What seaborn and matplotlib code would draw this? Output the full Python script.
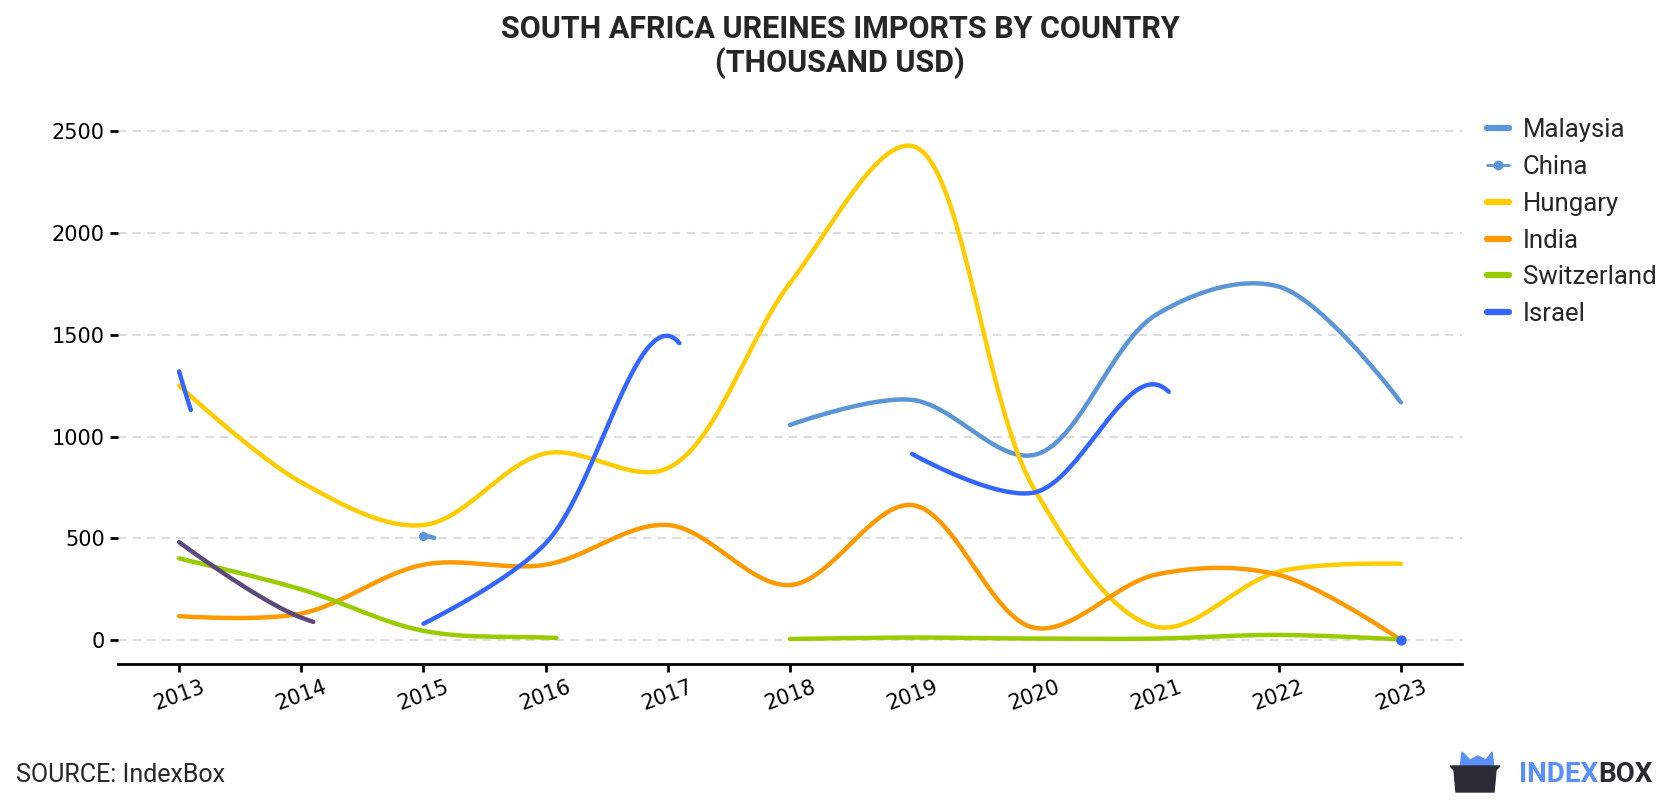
import numpy as np
import pandas as pd
import matplotlib.pyplot as plt
import seaborn as sns
from matplotlib.lines import Line2D
from matplotlib.patches import Polygon

# yearly values, thousand USD (None = no imports recorded)
years = list(range(2013, 2024))
malaysia = [None, None, None, None, None, 1057, 1180, 910, 1600, 1737, 1168]
china = [None, None, 511, None, None, None, None, None, None, None, None]
hungary = [1250, 775, 565, 917, 845, 1754, 2428, 740, 65, 336, 375]
india = [117, 130, 370, 370, 565, 270, 663, 60, 322, 320, 0]
switzerland = [401, 249, 45, 12, None, 5, 12, 7, 7, 25, 3]
israel = [1320, None, 80, 475, 1495, None, 914, 725, 1255, None, 0]
other = [481, 110, None, None, None, None, None, None, None, None, None]

legend_names = ['Malaysia', 'China', 'Hungary', 'India', 'Switzerland', 'Israel']
series = {'Malaysia': malaysia, 'China': china, 'Hungary': hungary, 'India': india,
          'Switzerland': switzerland, 'Israel': israel, 'Other': other}
colors = {'Malaysia': '#5a95d6', 'China': '#5a95d6', 'Hungary': '#ffcc00', 'India': '#ff9900',
          'Switzerland': '#99cc00', 'Israel': '#3366ff', 'Other': '#5c4a7c'}

W, H = 1680, 800
ax_rect = [118 / W, 136 / H, 1344 / W, 553 / H]
xlim = (2012.5, 2023.5)
ylim = (-118, 2600)
# pixels per data unit, the curve is smoothed in screen space
sx = ax_rect[2] * W / (xlim[1] - xlim[0])
sy = ax_rect[3] * H / (ylim[1] - ylim[0])


def bezier(p0, p1, p2, p3, alpha=0.5):
    '''centripetal catmull-rom piece from p1 to p2 (same maths as d3.curveCatmullRom)'''
    l01 = np.hypot(*(p1 - p0)) ** alpha
    l12 = np.hypot(*(p2 - p1)) ** alpha
    l23 = np.hypot(*(p3 - p2)) ** alpha
    c1, c2 = p1.copy(), p2.copy()
    if l01 > 1e-6:
        a = 2 * l01**2 + 3 * l01 * l12 + l12**2
        n = 3 * l01 * (l01 + l12)
        c1 = (p1 * a - p0 * l12**2 + p2 * l01**2) / n
    if l23 > 1e-6:
        b = 2 * l23**2 + 3 * l23 * l12 + l12**2
        m = 3 * l23 * (l23 + l12)
        c2 = (p2 * b + p1 * l23**2 - p3 * l12**2) / m
    t = np.linspace(0, 1, 80)[:, None]
    pts = (1 - t)**3 * p1 + 3 * (1 - t)**2 * t * c1 + 3 * (1 - t) * t**2 * c2 + t**3 * p2
    return pts[:, 0] / sx, pts[:, 1] / sy


def segments(vals):
    '''list of (x, y) runs to draw; a missing year counts as 0 next to a run's short tail'''
    n = len(vals)
    filled = [0.0 if v is None else float(v) for v in vals]
    P = [np.array([years[k] * sx, filled[k] * sy]) for k in range(n)]
    runs, cur = [], None
    for i in range(n):
        if vals[i] is None:
            continue
        if i == n - 1:
            if cur is None:
                runs.append(([years[i]], [vals[i]]))
            continue
        lone = vals[i + 1] is None and (i == 0 or vals[i - 1] is None)
        if i > 0 and (vals[i - 1] is not None or lone):
            p0 = P[i - 1]
        else:
            p0 = P[i]
        p3 = P[i + 2] if i + 2 < n else P[i + 1]
        bx, by = bezier(p0, P[i], P[i + 1], p3)
        if vals[i + 1] is None:
            keep = bx <= years[i] + 0.1
            bx, by = bx[keep], by[keep]
        if cur is None:
            cur = ([], [])
            runs.append(cur)
        cur[0].extend(bx)
        cur[1].extend(by)
        if vals[i + 1] is None:
            cur = None
    return runs


rows, points = [], []
for name, vals in series.items():
    for seg, (sxs, sys_) in enumerate(segments(vals)):
        if len(sxs) == 1:
            points.append((name, sxs[0], sys_[0]))
            continue
        for a, b in zip(sxs, sys_):
            rows.append((name, f'{name}{seg}', a, b))
df = pd.DataFrame(rows, columns=['country', 'segment', 'year', 'value'])
china_df = pd.DataFrame({'year': years, 'value': china}).dropna()
pts_df = pd.DataFrame(points, columns=['country', 'year', 'value'])

sns.set_theme(style='white')
plt.rcParams['font.family'] = ['Roboto', 'DejaVu Sans']

fig = plt.figure(figsize=(W / 100, H / 100), dpi=100)
ax = fig.add_axes(ax_rect)

sns.lineplot(data=df, x='year', y='value', hue='country', units='segment', estimator=None,
             sort=False, palette=colors, linewidth=3.2, legend=False, ax=ax)
sns.scatterplot(data=china_df, x='year', y='value', color=colors['China'], s=45,
                linewidth=0, ax=ax, zorder=5)
if len(pts_df):
    sns.scatterplot(data=pts_df, x='year', y='value', hue='country', palette=colors, s=55,
                    linewidth=0, legend=False, ax=ax, zorder=5)

ax.set_xlim(*xlim)
ax.set_ylim(*ylim)
ax.set_xticks(years)
ax.set_yticks(range(0, 2501, 500))
ax.set_xlabel('')
ax.set_ylabel('')
ax.yaxis.grid(True, linestyle=(0, (4, 3)), color='#dddddd', linewidth=1.5)
ax.set_axisbelow(True)
for s in ['top', 'right', 'left']:
    ax.spines[s].set_visible(False)
ax.spines['bottom'].set_color('black')
ax.spines['bottom'].set_linewidth(2)
ax.tick_params(axis='both', which='major', length=6, width=2, color='black',
               labelcolor='black', labelsize=15, bottom=True, left=True)
for lab in ax.get_xticklabels() + ax.get_yticklabels():
    lab.set_fontfamily('DejaVu Sans')
for lab in ax.get_xticklabels():
    lab.set_rotation(20)
    lab.set_ha('center')

handles = []
for name in legend_names:
    if name == 'China':
        handles.append(Line2D([], [], color=colors[name], lw=2, marker='o', markersize=6))
    else:
        handles.append(Line2D([], [], color=colors[name], lw=4.5))
fig.legend(handles, legend_names, loc='upper left', bbox_to_anchor=(1487 / W, 1 - 118 / H),
           frameon=False, fontsize=18.5, handlelength=0.85, handletextpad=0.55,
           labelspacing=0.5, borderpad=0, borderaxespad=0)

fig.text(0.5, 1 - 29 / H, 'SOUTH AFRICA UREINES IMPORTS BY COUNTRY', ha='center', va='center',
         fontsize=22, fontweight='bold')
fig.text(0.5, 1 - 63 / H, '(THOUSAND USD)', ha='center', va='center',
         fontsize=22, fontweight='bold')
fig.text(16 / W, 1 - 775 / H, 'SOURCE: IndexBox', ha='left', va='center', fontsize=18)

# logo
t1 = fig.text(1519 / W, 1 - 775 / H, 'INDEX', ha='left', va='center', fontsize=20,
              fontweight='bold', color='#5b8ff9')
fig.canvas.draw()
bb = t1.get_window_extent()
fig.text(bb.x1 / W, 1 - 775 / H, 'BOX', ha='left', va='center', fontsize=20,
         fontweight='bold', color='#2b2b36')
ears = [(1460, 768), (1462, 752), (1470, 760), (1478, 756), (1486, 760), (1492, 752), (1494, 768)]
body = [(1450, 766), (1500, 766), (1496, 770), (1494, 792), (1456, 792), (1454, 770)]
fig.patches.append(Polygon([(x / W, 1 - y / H) for x, y in ears], closed=True,
                           transform=fig.transFigure, color='#5b8ff9'))
fig.patches.append(Polygon([(x / W, 1 - y / H) for x, y in body], closed=True,
                           transform=fig.transFigure, color='#2b2b36'))

fig.savefig('out.png', dpi=100)
